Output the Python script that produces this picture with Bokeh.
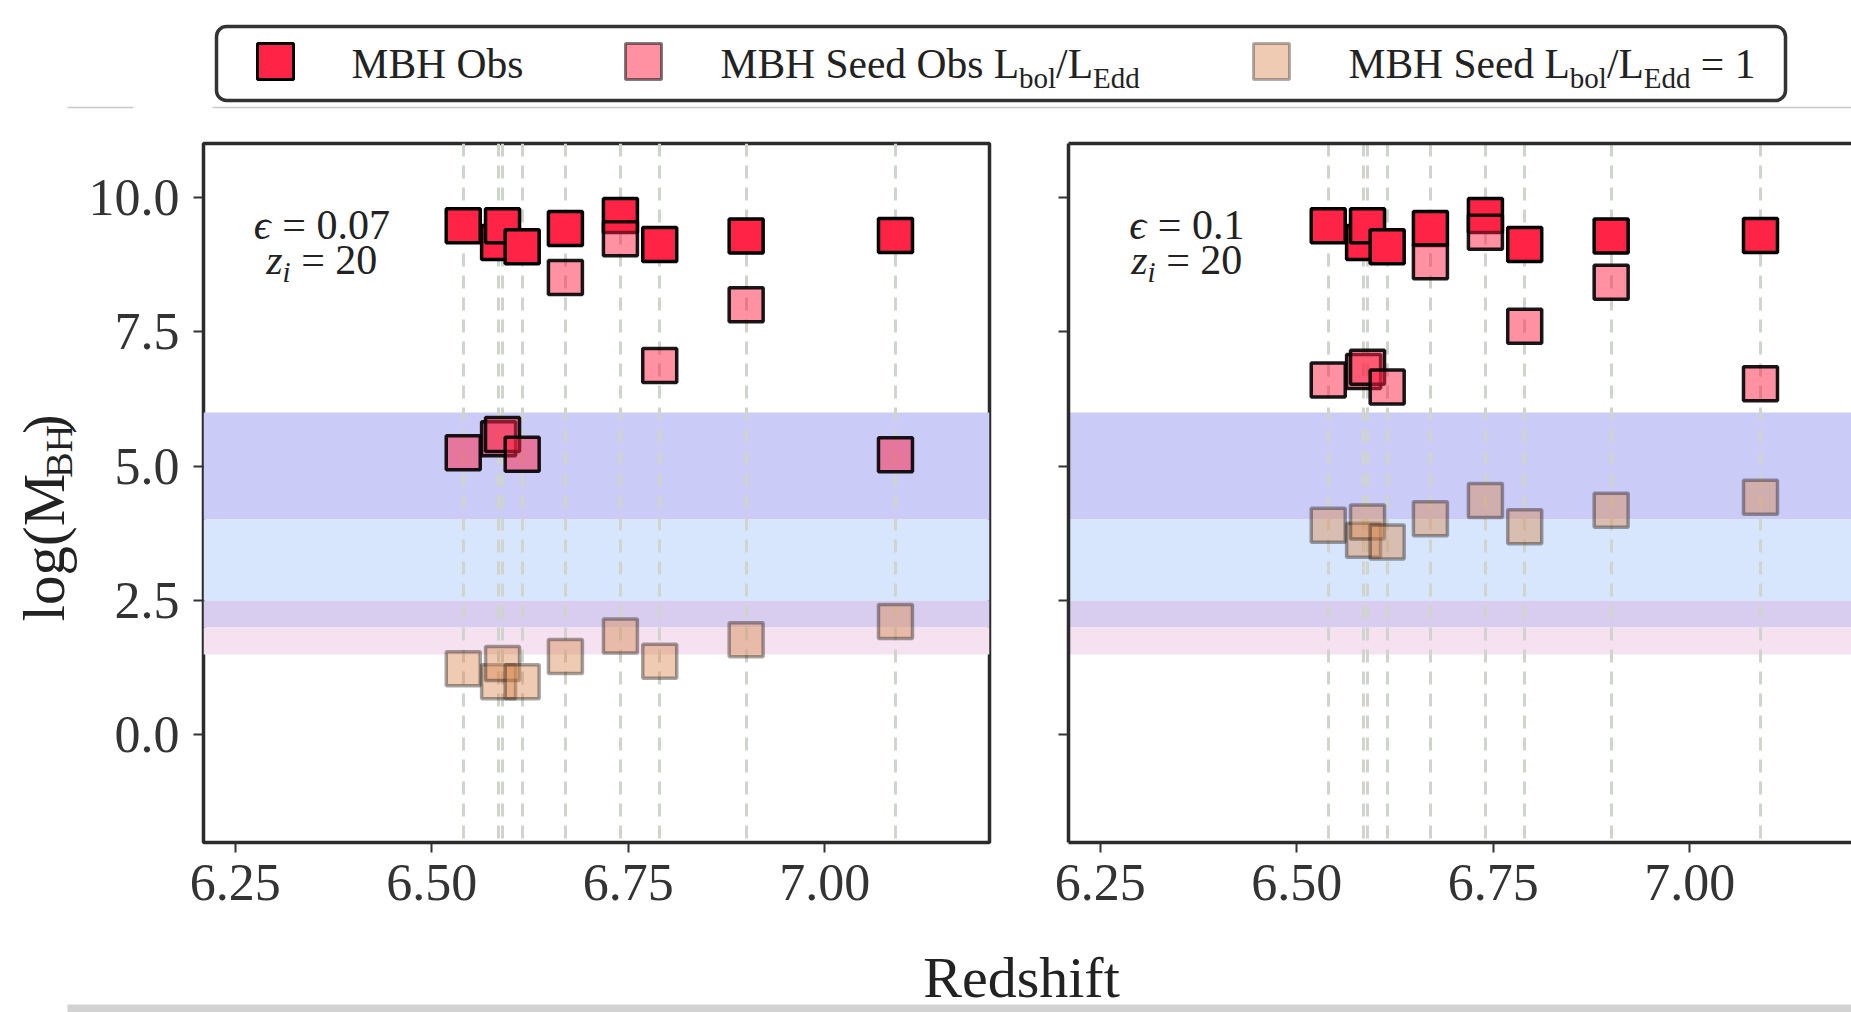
import math
from bokeh.plotting import figure
from bokeh.layouts import column, row
from bokeh.models import Range1d, FixedTicker, BoxAnnotation, LinearAxis, CustomJSTickFormatter
from bokeh.core.properties import value
from bokeh.embed import file_html
from bokeh.resources import INLINE

# ---------------- data ----------------
redshift = [6.54, 6.585, 6.59, 6.615, 6.67, 6.74, 6.79, 6.90, 7.09]
mbh_obs = [9.47, 9.16, 9.47, 9.08, 9.42, 9.66, 9.12, 9.28, 9.29]
seed_obs_eps007 = [5.25, 5.51, 5.59, 5.22, 8.51, 9.23, 6.87, 8.00, 5.21]
seed_edd_eps007 = [1.23, 0.99, 1.33, 0.99, 1.46, 1.84, 1.37, 1.77, 2.11]
seed_obs_eps01 = [6.60, 6.76, 6.84, 6.47, 8.80, 9.35, 7.60, 8.42, 6.53]
seed_edd_eps01 = [3.90, 3.62, 3.96, 3.59, 4.02, 4.36, 3.87, 4.18, 4.42]
band_lo = [4.0, 2.5, 2.0, 1.5]
band_hi = [6.0, 4.0, 2.5, 2.0]
band_colors = ["#cbcbf7", "#d7e6fd", "#d8cdee", "#f5e1f0"]
xticks = [6.25, 6.50, 6.75, 7.00]
xtick_labels = ["6.25", "6.50", "6.75", "7.00"]
yticks = [0.0, 2.5, 5.0, 7.5, 10.0]
ytick_labels = ["0.0", "2.5", "5.0", "7.5", "10.0"]
panel_eps = ["0.07", "0.1"]
panel_zi = ["20", "20"]

RED = "#ff2346"
TAN = "#d98c55"
FONT = "Liberation Serif"
TXT = "#222222"
NB = "\u00a0"
BASE_FIX = 0.34   # baseline compensation (fraction of font size)
ROT_FIX = 0.81    # along-text compensation for rotated text (fraction of font size)

# approx. Times advance widths (per 1000 em)
CW = {' ': 250, NB: 250, 'M': 889, 'B': 667, 'H': 722, 'O': 722, 'S': 556, 'L': 611, 'E': 611,
      'R': 667, 'b': 500, 's': 389, 'e': 444, 'd': 500, 'o': 500, 'l': 278, 'g': 500,
      'h': 500, 'i': 278, 'f': 333, 't': 278, 'z': 389, '(': 333, ')': 333, '/': 278,
      '=': 564, '.': 250, 'ϵ': 430}


def tw(s, size):
    return sum(CW.get(c, 500) for c in s) / 1000.0 * size


def txt(fig, x, y, t, size, style="normal", align="left", angle=0.0, xo=0.0, yo=0.0):
    if angle == 0.0:
        yo = yo - BASE_FIX * size
    else:
        xo = xo - BASE_FIX * size
    fig.text(x=[x], y=[y], text=[t], x_offset=xo, y_offset=yo, angle=angle,
             text_font=value(FONT), text_font_size=f"{size}px", text_font_style=style,
             text_align=align, text_baseline="alphabetic", text_color=TXT)


ROW_H = 810
TOP_B = 23
BOT_B = 88
XPX_PER_UNIT = 785.9


def make_panel(width, left_b, right_b, frame_w, seed_obs, seed_edd, eps, zi, first):
    x0 = 6.2095
    x1 = x0 + frame_w / XPX_PER_UNIT
    p = figure(width=width, height=ROW_H, x_range=Range1d(x0, x1), y_range=Range1d(-2, 11),
               min_border_left=left_b, min_border_right=right_b, min_border_top=TOP_B,
               min_border_bottom=BOT_B, output_backend="svg", toolbar_location=None)
    p.xgrid.grid_line_color = None
    p.ygrid.grid_line_color = None
    p.background_fill_color = "white"
    p.border_fill_color = "white"

    # bands and guide lines
    p.hstrip(y0=band_lo, y1=band_hi, fill_color=band_colors, line_color=None)
    p.vspan(x=redshift, line_color="#cfd4cc", line_width=3, line_dash="13 9")

    # points
    p.scatter(redshift, mbh_obs, marker="square", size=34, fill_color=RED,
              line_color="black", line_width=3.5)
    p.scatter(redshift, seed_obs, marker="square", size=34, fill_color=RED, fill_alpha=0.5,
              line_color="black", line_alpha=0.9, line_width=3.5)
    p.scatter(redshift, seed_edd, marker="square", size=34, fill_color=TAN, fill_alpha=0.45,
              line_color="black", line_alpha=0.35, line_width=3.5)

    # axes
    p.xaxis.ticker = FixedTicker(ticks=xticks)
    p.yaxis.ticker = FixedTicker(ticks=yticks)
    p.xaxis.formatter = CustomJSTickFormatter(args=dict(t=xticks, l=xtick_labels), code="""
        for (let k = 0; k < t.length; k++) { if (Math.abs(t[k] - tick) < 1e-6) return l[k]; }
        return '';""")
    if first:
        p.yaxis.formatter = CustomJSTickFormatter(args=dict(t=yticks, l=ytick_labels), code="""
            for (let k = 0; k < t.length; k++) { if (Math.abs(t[k] - tick) < 1e-6) return l[k]; }
            return '';""")
    else:
        p.yaxis.formatter = CustomJSTickFormatter(code="return '';")
    for ax in (p.xaxis, p.yaxis):
        ax.major_tick_out = 10
        ax.major_tick_in = 0
        ax.minor_tick_line_color = None
        ax.major_tick_line_width = 2
        ax.major_tick_line_color = "#333333"
        ax.major_label_text_font = FONT
        ax.major_label_text_font_size = "52px"
        ax.major_label_text_color = "#333333"
    p.xaxis.major_label_standoff = 12
    p.yaxis.major_label_standoff = 14

    if first:
        p.outline_line_color = "#2b2b2b"
        p.outline_line_width = 3.5
        p.xaxis.axis_line_color = None
        p.yaxis.axis_line_color = None
    else:
        p.outline_line_color = None
        for ax in (p.xaxis, p.yaxis):
            ax.axis_line_color = "#2b2b2b"
            ax.axis_line_width = 3.5
        top = LinearAxis(ticker=FixedTicker(ticks=[]), axis_line_color="#2b2b2b",
                         axis_line_width=3.5, major_tick_line_color=None,
                         minor_tick_line_color=None,
                         formatter=CustomJSTickFormatter(code="return '';"))
        p.add_layout(top, "above")

    # annotation  (eps / z_i), centred
    ax_c = 6.36
    fs, fsub = 42, 29
    l1 = [("ϵ", fs, 0, "italic"), (NB + "=" + NB + eps, fs, 0, "normal")]
    l2 = [("z", fs, 0, "italic"), ("i", fsub, 8, "italic"), (NB + "=" + NB + zi, fs, 0, "normal")]
    for pieces, yb in ((l1, 9.22), (l2, 8.57)):
        total = sum(tw(t, s) for t, s, _, _ in pieces)
        off = -total / 2.0
        for t, s, dy, st in pieces:
            txt(p, ax_c, yb, t, s, style=st, xo=off, yo=dy)
            off += tw(t, s)
    return p


YLAB_W = 85
P1_W = 118 + 786 + 40
P2_W = 1851 - YLAB_W - P1_W
p1 = make_panel(P1_W, 118, 40, 786, seed_obs_eps007, seed_edd_eps007, panel_eps[0], panel_zi[0], True)
p2 = make_panel(P2_W, 39, 0, P2_W - 39, seed_obs_eps01, seed_edd_eps01, panel_eps[1], panel_zi[1], False)


def blank(w, h, xr, yr):
    f = figure(width=w, height=h, x_range=Range1d(*xr), y_range=Range1d(*yr),
               x_axis_type=None, y_axis_type=None, output_backend="svg", toolbar_location=None,
               min_border_left=0, min_border_right=0, min_border_top=0, min_border_bottom=0)
    f.outline_line_color = None
    f.background_fill_color = "white"
    f.border_fill_color = "white"
    f.grid.visible = False
    return f


# ---------------- legend (page coordinates, origin at top-left) ----------------
LEG_H = 120
leg = blank(1851, LEG_H, (0, 1851), (LEG_H, 0))
leg.segment(x0=[67, 212], y0=[107, 107], x1=[133, 1851], y1=[107, 107],
            line_color="#c8c8c8", line_width=1.5)
leg.add_layout(BoxAnnotation(left=216, right=1785, top=26, bottom=100, fill_color="white",
                             fill_alpha=1.0, line_color="#333333", line_alpha=1.0,
                             line_width=3.5, border_radius=10, level="underlay"))
leg.scatter([275], [61], marker="square", size=36, fill_color=RED, line_color="black", line_width=3)
leg.scatter([643], [61], marker="square", size=36, fill_color=RED, fill_alpha=0.5,
            line_color="black", line_alpha=0.5, line_width=3)
leg.scatter([1271], [61], marker="square", size=36, fill_color=TAN, fill_alpha=0.45,
            line_color="black", line_alpha=0.3, line_width=3)

LF, LS, LD = 41.5, 29, 9
legend_items = [
    (351, [("MBH Obs", LF, 0)]),
    (720, [("MBH Seed Obs L", LF, 0), ("bol", LS, LD), ("/L", LF, 0), ("Edd", LS, LD)]),
    (1348, [("MBH Seed L", LF, 0), ("bol", LS, LD), ("/L", LF, 0), ("Edd", LS, LD),
            (NB + "=" + NB + "1", LF, 0)]),
]
for x0, pieces in legend_items:
    x = x0
    for t, s, dy in pieces:
        txt(leg, x, 78, t, s, yo=dy)
        x += tw(t, s)

# ---------------- y label (reads bottom to top) ----------------
ylab = blank(YLAB_W, ROW_H, (0, YLAB_W), (LEG_H + ROW_H, LEG_H))
ystart = 626
# (text, font size, perpendicular shift, extra gap before the piece)
yl = [("log(M", 59, 0, 0), ("BH", 38, 7, 2), (")", 59, 0, 15)]
yy = ystart
for t, s, dx, gap in yl:
    yy -= gap
    txt(ylab, 64, yy + ROT_FIX * s, t, s, angle=math.pi / 2, xo=dx)
    yy -= tw(t, s)

# ---------------- x label ----------------
XLAB_H = 1012 - LEG_H - ROW_H
xlab = blank(1851, XLAB_H, (0, 1851), (1012, LEG_H + ROW_H))
xlab.quad(left=[67], right=[1851], top=[1004], bottom=[1012], fill_color="#d2d2d2",
          line_color=None)
txt(xlab, 1021, 997, "Redshift", 58, align="center")

layout = column(leg, row(ylab, p1, p2), xlab)
open("out.html", "w").write(file_html(layout, INLINE))
